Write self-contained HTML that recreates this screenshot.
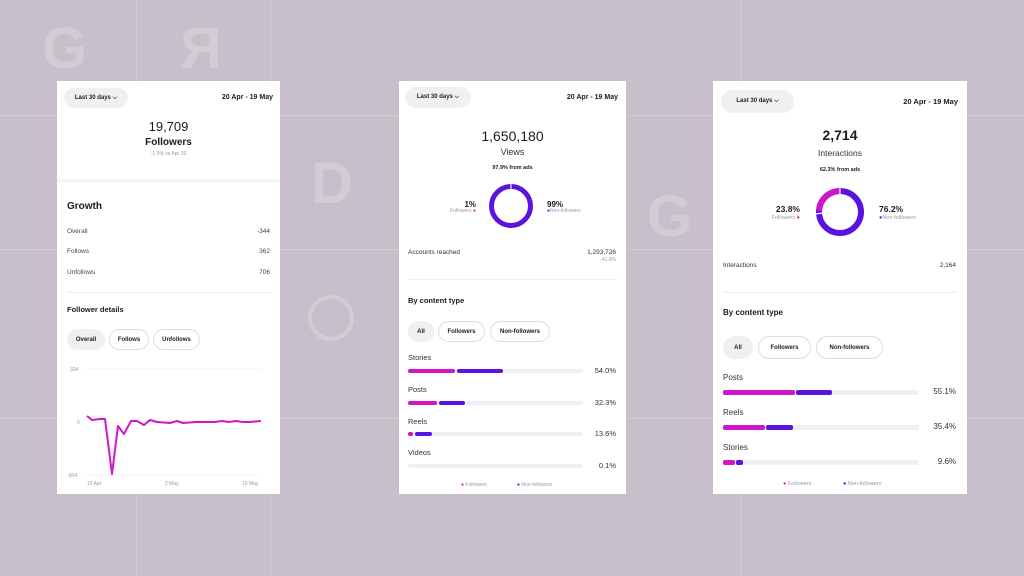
<!DOCTYPE html>
<html><head><meta charset="utf-8"><style>
*{margin:0;padding:0;box-sizing:border-box}
body{width:1024px;height:576px;background:#c7bfc9;position:relative;overflow:hidden;font-family:"Liberation Sans",sans-serif;color:#1c1c1c}
.a{position:absolute;white-space:nowrap}
.card{position:absolute;background:#fff;top:81px;height:413px}
.pill{position:absolute;border:1px solid #dcdcdc;border-radius:12px;font-size:6px;font-weight:bold;display:flex;align-items:center;justify-content:center;background:#fff}
.pill.g{background:#eff0f2;border-color:#eff0f2}
.bar{position:absolute;height:4px;background:#eff0f4;border-radius:2px}
.bg{position:absolute;background:#d3ccd5}
.r{text-align:right}
.L{position:absolute;font-size:58px;color:#d3ccd5;font-weight:bold;line-height:1}
</style></head><body>
<div class="bg" style="left:0;top:115px;width:1024px;height:1px"></div>
<div class="bg" style="left:0;top:249px;width:1024px;height:1px"></div>
<div class="bg" style="left:0;top:418px;width:1024px;height:1px"></div>
<div class="bg" style="left:136px;top:0;width:1px;height:576px"></div>
<div class="bg" style="left:270px;top:0;width:1px;height:576px"></div>
<div class="bg" style="left:740px;top:0;width:1px;height:576px"></div>
<div class="L" style="left:42px;top:20px">G</div>
<div class="L" style="left:180px;top:20px;transform:scaleX(-1)">R</div>
<div class="L" style="left:311px;top:155px">D</div>
<div class="L" style="left:647px;top:188px">G</div>
<div class="a" style="left:308px;top:295px;width:46px;height:46px;border:4px solid #d3ccd5;border-radius:50%"></div>

<!-- Card 1 -->
<div class="card" style="left:57px;width:223px">
<div class="pill g" style="left:7px;top:7px;width:64px;height:20px;font-weight:bold">Last 30 days ⌵</div>
<div class="a" style="right:7px;top:13px;font-size:7px;font-weight:bold">20 Apr - 19 May</div>
<div class="a" style="left:0;width:223px;text-align:center;top:38px;font-size:13px">19,709</div>
<div class="a" style="left:0;width:223px;text-align:center;top:56px;font-size:10px;font-weight:bold">Followers</div>
<div class="a" style="left:0;width:223px;text-align:center;top:70px;font-size:5px;color:#999">-1.9% vs Apr 19</div>
<div class="a" style="left:0;top:98px;width:223px;height:3px;background:#f3f5f6"></div>
<div class="a" style="left:10px;top:120px;font-size:10px;font-weight:bold">Growth</div>
<div class="a" style="left:10px;top:147px;font-size:6.5px;color:#444">Overall</div><div class="a" style="right:10px;top:147px;font-size:6.5px;color:#444">-344</div>
<div class="a" style="left:10px;top:167px;font-size:6.5px;color:#444">Follows</div><div class="a" style="right:10px;top:167px;font-size:6.5px;color:#444">362</div>
<div class="a" style="left:10px;top:188px;font-size:6.5px;color:#444">Unfollows</div><div class="a" style="right:10px;top:188px;font-size:6.5px;color:#444">706</div>
<div class="a" style="left:10px;top:211px;width:203px;height:1px;background:#eee"></div>
<div class="a" style="left:10px;top:224px;font-size:7.5px;font-weight:bold">Follower details</div>
<div class="pill g" style="left:10px;top:248px;width:38px;height:21px">Overall</div>
<div class="pill" style="left:52px;top:248px;width:40px;height:21px">Follows</div>
<div class="pill" style="left:96px;top:248px;width:47px;height:21px">Unfollows</div>
</div>

<!-- Card 2 -->
<div class="card" style="left:399px;width:227px">
<div class="pill g" style="left:6px;top:6px;width:66px;height:21px">Last 30 days ⌵</div>
<div class="a" style="right:8px;top:13px;font-size:7px;font-weight:bold">20 Apr - 19 May</div>
<div class="a" style="left:0;width:227px;text-align:center;top:47px;font-size:14px">1,650,180</div>
<div class="a" style="left:0;width:227px;text-align:center;top:66px;font-size:9px;color:#333">Views</div>
<div class="a" style="left:0;width:227px;text-align:center;top:84px;font-size:5.5px;font-weight:bold">97.9% from ads</div>
<div class="a r" style="right:150px;top:119px;font-size:8px;font-weight:bold">1%</div>
<div class="a r" style="right:150px;top:127px;font-size:5px;color:#999">Followers <span style="color:#d016c8">●</span></div>
<div class="a" style="left:148px;top:119px;font-size:8px;font-weight:bold">99%</div>
<div class="a" style="left:148px;top:127px;font-size:5px;color:#999"><span style="color:#5b14e0">●</span>Non-followers</div>
<div class="a" style="left:9px;top:168px;font-size:6.5px;color:#333">Accounts reached</div>
<div class="a" style="right:10px;top:168px;font-size:6.5px;color:#333">1,293,726</div>
<div class="a" style="right:10px;top:176px;font-size:5px;color:#999">-41.8%</div>
<div class="a" style="left:9px;top:198px;width:209px;height:1px;background:#eee"></div>
<div class="a" style="left:9px;top:215px;font-size:7.5px;font-weight:bold">By content type</div>
<div class="pill g" style="left:9px;top:240px;width:26px;height:21px">All</div>
<div class="pill" style="left:39px;top:240px;width:47px;height:21px">Followers</div>
<div class="pill" style="left:91px;top:240px;width:60px;height:21px">Non-followers</div>
<div class="a" style="left:9px;top:272px;font-size:7.5px;color:#333">Stories</div>
<div class="bar" style="left:9px;top:288px;width:175px"><div class="a" style="left:0;top:0;width:47px;height:4px;background:#d016c8;border-radius:2px"></div><div class="a" style="left:49px;top:0;width:46px;height:4px;background:#5b14e0;border-radius:2px"></div></div>
<div class="a" style="right:10px;top:285px;font-size:7.5px;color:#333">54.0%</div>
<div class="a" style="left:9px;top:304px;font-size:7.5px;color:#333">Posts</div>
<div class="bar" style="left:9px;top:320px;width:175px"><div class="a" style="left:0;top:0;width:29px;height:4px;background:#d016c8;border-radius:2px"></div><div class="a" style="left:31px;top:0;width:26px;height:4px;background:#5b14e0;border-radius:2px"></div></div>
<div class="a" style="right:10px;top:317px;font-size:7.5px;color:#333">32.3%</div>
<div class="a" style="left:9px;top:336px;font-size:7.5px;color:#333">Reels</div>
<div class="bar" style="left:9px;top:351px;width:175px"><div class="a" style="left:0;top:0;width:5px;height:4px;background:#d016c8;border-radius:2px"></div><div class="a" style="left:7px;top:0;width:17px;height:4px;background:#5b14e0;border-radius:2px"></div></div>
<div class="a" style="right:10px;top:348px;font-size:7.5px;color:#333">13.6%</div>
<div class="a" style="left:9px;top:367px;font-size:7.5px;color:#333">Videos</div>
<div class="bar" style="left:9px;top:383px;width:175px"></div>
<div class="a" style="right:10px;top:380px;font-size:7.5px;color:#333">0.1%</div>
<div class="a" style="left:62px;top:401px;font-size:5px;color:#999"><span style="color:#d016c8">●</span> Followers</div>
<div class="a" style="left:118px;top:401px;font-size:5px;color:#999"><span style="color:#5b14e0">●</span> Non-followers</div>
</div>

<!-- Card 3 -->
<div class="card" style="left:713px;width:254px">
<div class="pill g" style="left:8px;top:9px;width:73px;height:23px">Last 30 days ⌵</div>
<div class="a" style="right:9px;top:16px;font-size:7.5px;font-weight:bold">20 Apr - 19 May</div>
<div class="a" style="left:0;width:254px;text-align:center;top:46px;font-size:14px;font-weight:bold">2,714</div>
<div class="a" style="left:0;width:254px;text-align:center;top:67px;font-size:8.5px;color:#333">Interactions</div>
<div class="a" style="left:0;width:254px;text-align:center;top:86px;font-size:5.5px;font-weight:bold">62.3% from ads</div>
<div class="a r" style="right:167px;top:123px;font-size:8.5px;font-weight:bold">23.8%</div>
<div class="a r" style="right:167px;top:134px;font-size:5.5px;color:#999">Followers <span style="color:#d016c8">●</span></div>
<div class="a" style="left:166px;top:123px;font-size:8.5px;font-weight:bold">76.2%</div>
<div class="a" style="left:166px;top:134px;font-size:5.5px;color:#999"><span style="color:#5b14e0">●</span>Non-followers</div>
<div class="a" style="left:10px;top:181px;font-size:6.5px;color:#333">Interactions</div>
<div class="a" style="right:11px;top:181px;font-size:6.5px;color:#333">2,164</div>
<div class="a" style="left:10px;top:211px;width:234px;height:1px;background:#eee"></div>
<div class="a" style="left:10px;top:227px;font-size:8px;font-weight:bold">By content type</div>
<div class="pill g" style="left:10px;top:255px;width:30px;height:23px">All</div>
<div class="pill" style="left:45px;top:255px;width:53px;height:23px">Followers</div>
<div class="pill" style="left:103px;top:255px;width:67px;height:23px">Non-followers</div>
<div class="a" style="left:10px;top:292px;font-size:8px;color:#333">Posts</div>
<div class="bar" style="left:10px;top:309px;width:196px;height:5px"><div class="a" style="left:0;top:0;width:72px;height:5px;background:#d016c8;border-radius:2px"></div><div class="a" style="left:73px;top:0;width:36px;height:5px;background:#5b14e0;border-radius:2px"></div></div>
<div class="a" style="right:11px;top:306px;font-size:8px;color:#333">55.1%</div>
<div class="a" style="left:10px;top:327px;font-size:8px;color:#333">Reels</div>
<div class="bar" style="left:10px;top:344px;width:196px;height:5px"><div class="a" style="left:0;top:0;width:42px;height:5px;background:#d016c8;border-radius:2px"></div><div class="a" style="left:43px;top:0;width:27px;height:5px;background:#5b14e0;border-radius:2px"></div></div>
<div class="a" style="right:11px;top:341px;font-size:8px;color:#333">35.4%</div>
<div class="a" style="left:10px;top:362px;font-size:8px;color:#333">Stories</div>
<div class="bar" style="left:10px;top:379px;width:196px;height:5px"><div class="a" style="left:0;top:0;width:12px;height:5px;background:#d016c8;border-radius:2px"></div><div class="a" style="left:13px;top:0;width:7px;height:5px;background:#5b14e0;border-radius:2px"></div></div>
<div class="a" style="right:11px;top:376px;font-size:8px;color:#333">9.6%</div>
<div class="a" style="left:70px;top:400px;font-size:5.5px;color:#999"><span style="color:#d016c8">●</span> Followers</div>
<div class="a" style="left:130px;top:400px;font-size:5.5px;color:#999"><span style="color:#5b14e0">●</span> Non-followers</div>
</div>

<svg class="a" style="left:0;top:0;z-index:5" width="1024" height="576">
<g font-family="Liberation Sans" font-size="5" fill="#999">
<line x1="86" y1="369" x2="261" y2="369" stroke="#eee" stroke-width=".6"/>
<line x1="86" y1="422" x2="261" y2="422" stroke="#eee" stroke-width=".6"/>
<line x1="86" y1="475" x2="261" y2="475" stroke="#eee" stroke-width=".6"/>
<text x="70" y="371">304</text><text x="77" y="424">0</text><text x="67" y="477">-304</text>
<text x="87" y="485">19 Apr</text><text x="165" y="485">2 May</text><text x="242" y="485">16 May</text>
</g>
<polyline fill="none" stroke="#d016c8" stroke-width="2" stroke-linejoin="round" points="87,416 92,420 100,419 105,419 112,474 118,426 124,434 131,421 137,421 144,425 150,420 157,422 170,423 177,421 183,423 196,422 203,422 215,422 222,421 229,422 236,421 243,422 249,422 261,421"/>
<circle cx="511" cy="206" r="19.5" fill="none" stroke="#5b14e0" stroke-width="5"/>
<circle cx="511" cy="206" r="19.5" fill="none" stroke="#d016c8" stroke-width="5" stroke-dasharray="1.2 200" transform="rotate(-93 511 206)"/>
<line x1="511" y1="183" x2="511" y2="190" stroke="#fff" stroke-width="1"/>
<circle cx="840" cy="212" r="21" fill="none" stroke="#5b14e0" stroke-width="6"/>
<circle cx="840" cy="212" r="21" fill="none" stroke="#d016c8" stroke-width="6" stroke-dasharray="31.4 200" transform="rotate(-176 840 212)"/>
<line x1="840" y1="187" x2="840" y2="195" stroke="#fff" stroke-width="1.2"/>
<line x1="815" y1="214" x2="823" y2="213" stroke="#fff" stroke-width="1.2"/>
</svg>
</body></html>
